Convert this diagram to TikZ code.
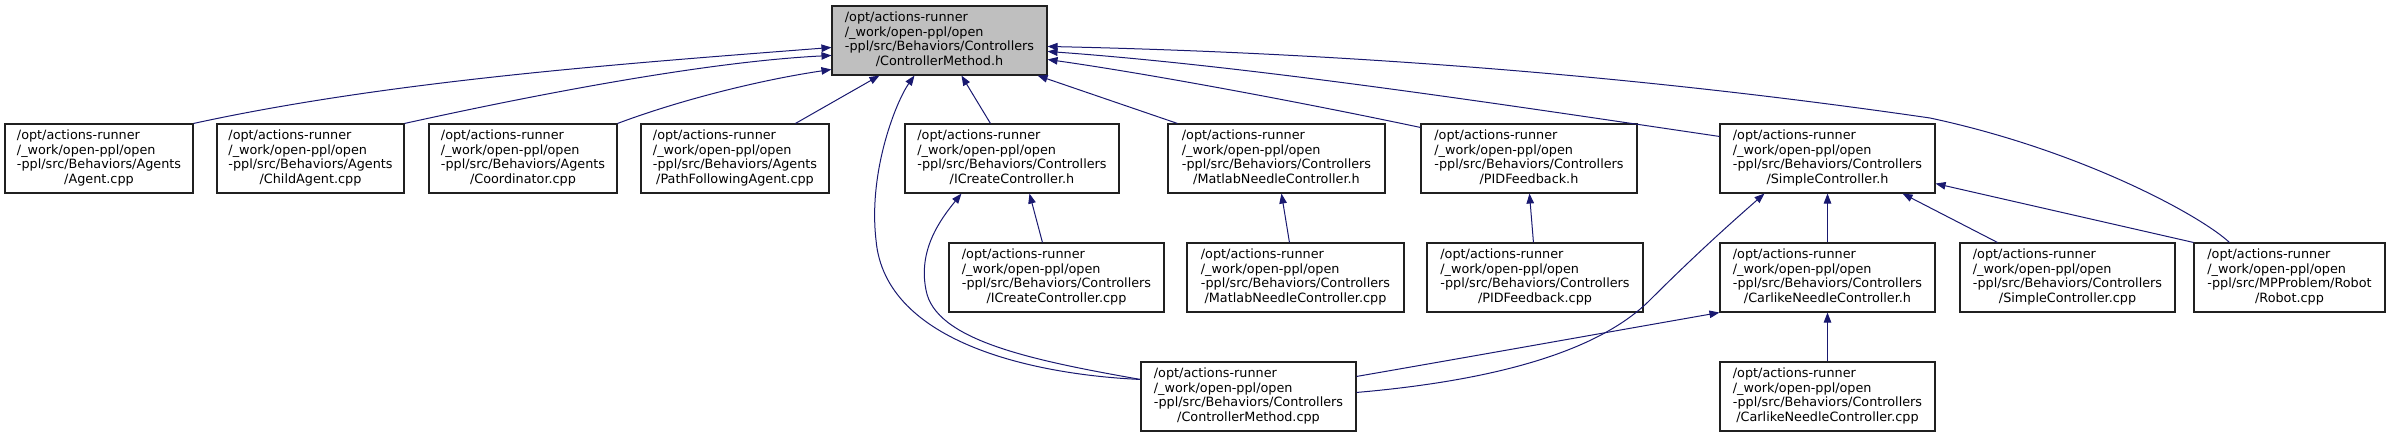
\documentclass[tikz,border=0pt]{standalone}
\usepackage{fontspec}
\setmainfont{DejaVu Sans}
\usetikzlibrary{arrows.meta,calc}
\definecolor{edgeblue}{HTML}{191970}
\definecolor{rootfill}{HTML}{BFBFBF}
\definecolor{boxline}{HTML}{202020}
\newcommand{\lbl}[4]{\fontsize{12.8}{14.7}\selectfont\begin{tabular}{@{}l@{}}#1\\#2\\#3\\\multicolumn{1}{@{}c@{}}{#4}\end{tabular}}
\newcommand{\ctl}[1]{\lbl{/opt/actions-runner}{/\_work/open-ppl/open}{-ppl/src/Behaviors/Controllers}{#1}}
\newcommand{\agt}[1]{\lbl{/opt/actions-runner}{/\_work/open-ppl/open}{-ppl/src/Behaviors/Agents}{#1}}
\tikzset{
  filebox/.style={draw=boxline, line width=1.1pt, fill=white, minimum height=69pt, inner sep=0pt, text=black},
  rootbox/.style={filebox, fill=rootfill},
  edge/.style={draw=edgeblue, line width=1pt, -{Triangle[length=10pt,width=7.5pt]}}
}
\begin{document}
\begin{tikzpicture}[x=1pt,y=-1pt]
\useasboundingbox (0,0) rectangle (2391,437);
% nodes
\node[rootbox, minimum width=215pt] (root) at (939.5,40.5) {\ctl{/ControllerMethod.h}};
\node[filebox, minimum width=188pt] (A1) at (99,158.5) {\agt{/Agent.cpp}};
\node[filebox, minimum width=187pt] (A2) at (310.5,158.5) {\agt{/ChildAgent.cpp}};
\node[filebox, minimum width=188pt] (A3) at (523,158.5) {\agt{/Coordinator.cpp}};
\node[filebox, minimum width=188pt] (A4) at (735,158.5) {\agt{/PathFollowingAgent.cpp}};
\node[filebox, minimum width=214pt] (B1) at (1012,158.5) {\ctl{/ICreateController.h}};
\node[filebox, minimum width=217pt] (B2) at (1276.5,158.5) {\ctl{/MatlabNeedleController.h}};
\node[filebox, minimum width=216pt] (B3) at (1529,158.5) {\ctl{/PIDFeedback.h}};
\node[filebox, minimum width=215pt] (B4) at (1827.5,158.5) {\ctl{/SimpleController.h}};
\node[filebox, minimum width=215pt] (C1) at (1056.5,277.5) {\ctl{/ICreateController.cpp}};
\node[filebox, minimum width=217pt] (C2) at (1295.5,277.5) {\ctl{/MatlabNeedleController.cpp}};
\node[filebox, minimum width=216pt] (C3) at (1535,277.5) {\ctl{/PIDFeedback.cpp}};
\node[filebox, minimum width=215pt] (C4) at (1827.5,277.5) {\ctl{/CarlikeNeedleController.h}};
\node[filebox, minimum width=215pt] (C5) at (2067.5,277.5) {\ctl{/SimpleController.cpp}};
\node[filebox, minimum width=191pt] (C6) at (2289.5,277.5) {\lbl{/opt/actions-runner}{/\_work/open-ppl/open}{-ppl/src/MPProblem/Robot}{/Robot.cpp}};
\node[filebox, minimum width=215pt] (D1) at (1248.5,396.5) {\ctl{/ControllerMethod.cpp}};
\node[filebox, minimum width=215pt] (D2) at (1827.5,396.5) {\ctl{/CarlikeNeedleController.cpp}};
% edges into root
\draw[edge] (A1.north east) .. controls (393,80) and (632,63) .. ($(root.north west)+(0,42)$);
\draw[edge] (A2.north east) .. controls (520,98) and (700,62) .. ($(root.north west)+(0,50)$);
\draw[edge] (A3.north east) .. controls (680,100) and (760,80) .. ($(root.north west)+(0,64)$);
\draw[edge] ($(A4.north west)+(155,0)$) -- ($(root.south west)+(48,0)$);
\draw[edge] ($(D1.north west)+(0,18)$) .. controls (1040,375) and (885,345) .. (876,240) .. controls (868,170) and (897,100) .. ($(root.south west)+(83,0)$);
\draw[edge] ($(B1.north west)+(86,0)$) -- ($(root.south west)+(130,0)$);
\draw[edge] ($(B2.north west)+(10,0)$) -- ($(root.south east)+(-10,0)$);
\draw[edge] ($(B3.north west)+(0,4)$) .. controls (1300,102) and (1150,74) .. ($(root.north east)+(0,54)$);
\draw[edge] ($(B4.north west)+(0,13)$) .. controls (1500,104) and (1250,66) .. ($(root.north east)+(0,46)$);
\draw[edge] ($(C6.north west)+(36,0)$) .. controls (2200,215) and (2080,150) .. (1930,118) .. controls (1600,70) and (1300,52) .. ($(root.north east)+(0,41)$);
% other edges
\draw[edge] ($(C1.north west)+(94,0)$) -- ($(B1.south west)+(125,0)$);
\draw[edge] ($(D1.north west)+(0,18)$) .. controls (1030,360) and (935,340) .. (926,290) .. controls (918,250) and (940,220) .. ($(B1.south west)+(57,0)$);
\draw[edge] ($(C2.north west)+(103,0)$) -- ($(B2.south west)+(114,0)$);
\draw[edge] ($(C3.north west)+(107,0)$) -- ($(B3.south west)+(109,0)$);
\draw[edge] ($(D1.north east)+(0,31)$) .. controls (1500,380) and (1600,350) .. (1650,300) .. controls (1700,250) and (1740,215) .. ($(B4.south west)+(45,0)$);
\draw[edge] ($(D1.north east)+(0,15)$) .. controls (1480,355) and (1620,330) .. (C4.south west);
\draw[edge] (C4.north) -- (B4.south);
\draw[edge] ($(C5.north west)+(38,0)$) -- ($(B4.south east)+(-33,0)$);
\draw[edge] (C6.north west) -- ($(B4.south east)+(0,-10)$);
\draw[edge] (D2.north) -- (C4.south);
\end{tikzpicture}
\end{document}
